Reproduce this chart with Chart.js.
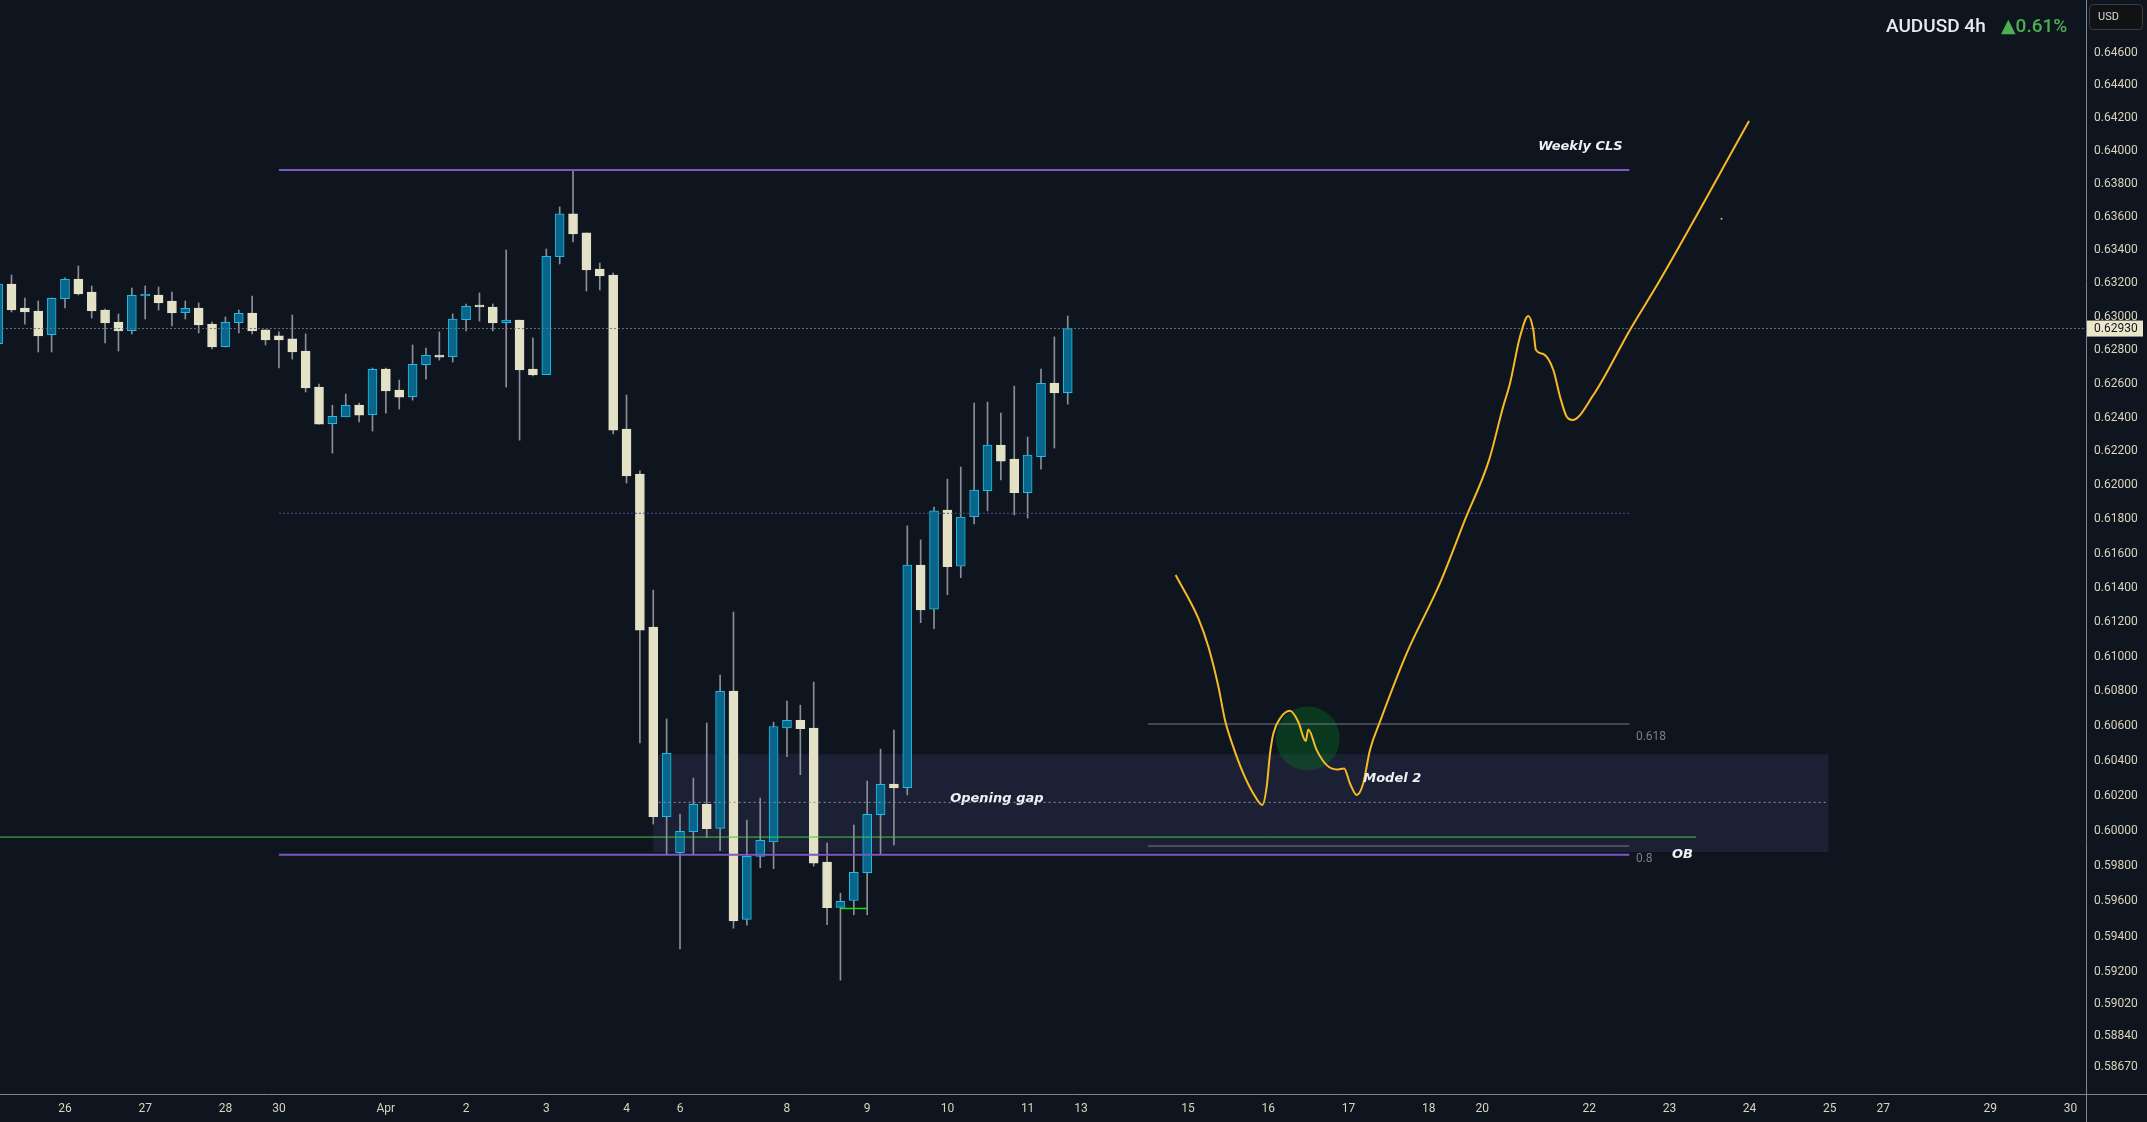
<!DOCTYPE html>
<html>
<head>
<meta charset="utf-8">
<title>AUDUSD 4h</title>
<script src="https://cdn.jsdelivr.net/npm/chart.js@4.4.1/dist/chart.umd.min.js"></script>
<style>
  html, body { margin: 0; padding: 0; background: #0f151f; overflow: hidden; }
  canvas { display: block; }
</style>
</head>
<body>
<canvas id="chart" width="2147" height="1122"></canvas>
<script>
// 4h candles, oldest first (bar number = index + 1)
const opens = [0.62840,0.63197,0.63053,0.63035,0.62893,0.63109,0.63227,0.63149,0.63041,0.62969,
  0.62917,0.63125,0.63131,0.63095,0.63025,0.63053,0.62957,0.62822,0.62965,0.63023,
  0.62922,0.62886,0.62868,0.62796,0.62581,0.62364,0.62405,0.62474,0.62417,0.62689,
  0.62564,0.62524,0.62714,0.62772,0.62762,0.62983,0.63063,0.63059,0.62965,0.62981,
  0.62689,0.62655,0.63361,0.63619,0.63504,0.63287,0.63251,0.62332,0.62067,0.61172,
  0.60080,0.59875,0.59995,0.60150,0.60014,0.60801,0.59497,0.59854,0.59937,0.60589,
  0.60632,0.60588,0.59822,0.59565,0.59604,0.59761,0.60091,0.60267,0.60246,0.61533,
  0.61275,0.61855,0.61526,0.61816,0.61969,0.62238,0.62155,0.61957,0.62169,0.62605,0.62548];
const highs = [0.63221,0.63251,0.63113,0.63095,0.63113,0.63234,0.63305,0.63185,0.63047,0.63017,
  0.63173,0.63185,0.63179,0.63149,0.63095,0.63083,0.62969,0.62999,0.63041,0.63125,
  0.62922,0.62910,0.63011,0.62898,0.62599,0.62474,0.62540,0.62486,0.62695,0.62695,
  0.62623,0.62832,0.62814,0.62910,0.63017,0.63077,0.63143,0.63077,0.63401,0.62981,
  0.62874,0.63407,0.63661,0.63885,0.63504,0.63323,0.63263,0.62534,0.62085,0.61387,
  0.60640,0.60095,0.60301,0.60617,0.60893,0.61259,0.60061,0.60186,0.60622,0.60743,
  0.60720,0.60853,0.59930,0.59646,0.60033,0.60284,0.60467,0.60576,0.61762,0.61680,
  0.61873,0.62037,0.62108,0.62486,0.62492,0.62427,0.62587,0.62285,0.62689,0.62880,0.63005];
const lows = [0.62832,0.63029,0.62957,0.62790,0.62790,0.63053,0.63131,0.62993,0.62844,0.62796,
  0.62898,0.62987,0.63041,0.62946,0.62987,0.62904,0.62808,0.62820,0.62904,0.62898,
  0.62832,0.62695,0.62748,0.62552,0.62362,0.62190,0.62405,0.62374,0.62320,0.62427,
  0.62451,0.62504,0.62629,0.62742,0.62730,0.62916,0.62975,0.62916,0.62581,0.62267,
  0.62647,0.62655,0.63317,0.63450,0.63155,0.63161,0.62303,0.62014,0.60503,0.60038,
  0.59863,0.59331,0.59863,0.59962,0.59886,0.59448,0.59465,0.59789,0.59784,0.60423,
  0.60320,0.59799,0.59467,0.59155,0.59523,0.59523,0.59867,0.59919,0.60205,0.61197,
  0.61162,0.61360,0.61459,0.61773,0.61850,0.62032,0.61826,0.61808,0.62096,0.62220,0.62480];
const closes = [0.63197,0.63041,0.63029,0.62886,0.63111,0.63225,0.63137,0.63035,0.62963,0.62916,
  0.63129,0.63131,0.63083,0.63023,0.63051,0.62952,0.62820,0.62968,0.63021,0.62916,
  0.62862,0.62862,0.62790,0.62576,0.62362,0.62408,0.62473,0.62415,0.62687,0.62558,
  0.62522,0.62717,0.62770,0.62760,0.62986,0.63063,0.63059,0.62963,0.62980,0.62683,
  0.62653,0.63363,0.63619,0.63498,0.63281,0.63245,0.62326,0.62055,0.61154,0.60080,
  0.60442,0.59997,0.60150,0.60012,0.60799,0.59489,0.59854,0.59945,0.60597,0.60632,
  0.60584,0.59816,0.59563,0.59599,0.59763,0.60093,0.60265,0.60244,0.61532,0.61271,
  0.61850,0.61523,0.61814,0.61973,0.62238,0.62143,0.61957,0.62179,0.62603,0.62546,0.62930];

// time axis: bar number of each day label
const xTickPos = [6,12,18,22,30,36,42,48,52,60,66,72,78,82,90,96,102,108,112,120,126,132,138,142,150,156];
const xTickLabels = ['26','27','28','30','Apr','2','3','4','6','8','9','10','11','13','15','16','17','18','20','22','23','24','25','27','29','30'];

// price axis
const yTicks = [0.646,0.644,0.642,0.640,0.638,0.636,0.634,0.632,0.630,0.628,0.626,0.624,0.622,0.620,
  0.618,0.616,0.614,0.612,0.610,0.608,0.606,0.604,0.602,0.600,0.598,0.596,0.594,0.592,0.5902,0.5884,0.5867];

// projected path (bar number, price)
const pathX = [89.07,90.77,91.52,92.27,92.76,93.38,94.13,94.88,95.55,95.88,96.13,96.38,96.88,97.63,98.24,
  98.8,98.99,99.62,100.37,101.12,101.67,102.11,102.61,103.1,103.6,104.35,106.35,108.84,110.71,112.51,
  113.56,114.08,114.83,115.45,115.82,116.02,116.57,117.32,117.82,118.32,118.74,120.31,123.05,125.3,131.96];
const pathY = [0.61475,0.61222,0.61057,0.60826,0.60634,0.60480,0.60328,0.60213,0.60147,0.60251,0.60442,
  0.60557,0.60643,0.60687,0.60624,0.60513,0.60580,0.60461,0.60375,0.60350,0.60356,0.60270,0.60204,
  0.60270,0.60461,0.60624,0.61019,0.61427,0.61797,0.62149,0.62463,0.62604,0.62882,0.63005,0.62922,
  0.62802,0.62778,0.62683,0.62524,0.62405,0.62386,0.62534,0.62922,0.63221,0.64182];

// drawn levels
const weeklyCls = 0.63884;
const obLevel = 0.59864;
const greenLevel = 0.59964;
const midLevel = 0.61836;
const fib618 = 0.60611;
const fib80 = 0.59913;
const gapTop = 0.60438, gapBottom = 0.59879, gapMid = 0.60162;
const lowMark = 0.59559;
const lastPrice = closes[closes.length - 1];

const bars = opens.map((o, i) => i + 1);
const isUp = closes.map((c, i) => c >= opens[i]);

const upFill = '#09668a', upEdge = '#1bbde6', downFill = '#e4e2c6';
const axisText = '#d8d5bc';

function level(y, x0, x1, color, width, dash) {
  return {
    type: 'line', data: [{ x: x0, y }, { x: x1, y }],
    borderColor: color, borderWidth: width, borderDash: dash || [],
    pointRadius: 0, pointHoverRadius: 0, order: 0
  };
}

const notes = [
  { text: 'Weekly CLS', x: 122.5, y: 0.64033, align: 'right', kind: 'label' },
  { text: 'Opening gap', x: 75.7, y: 0.60192, align: 'center', kind: 'label' },
  { text: 'Model 2', x: 103.1, y: 0.60308, align: 'left', kind: 'label' },
  { text: 'OB', x: 126.2, y: 0.59875, align: 'left', kind: 'label' },
  { text: '0.618', x: 123.5, y: 0.60543, align: 'left', kind: 'fib' },
  { text: '0.8', x: 123.5, y: 0.59846, align: 'left', kind: 'fib' }
];
const zone = { x: 98.95, y: 0.60528 };

const overlay = {
  id: 'overlay',
  beforeDatasetsDraw(chart) {
    const { ctx, chartArea, scales: { x, y } } = chart;
    ctx.save();
    ctx.beginPath();
    ctx.rect(chartArea.left, chartArea.top, chartArea.width, chartArea.height);
    ctx.clip();
    // opening gap box
    const l = x.getPixelForValue(50), r = x.getPixelForValue(137.9);
    const t = y.getPixelForValue(gapTop), b = y.getPixelForValue(gapBottom);
    ctx.fillStyle = '#1c2034';
    ctx.fillRect(l, t, r - l, b - t);
    // green zone
    ctx.fillStyle = 'rgba(0,140,30,0.3)';
    ctx.beginPath();
    ctx.arc(x.getPixelForValue(zone.x), y.getPixelForValue(zone.y), 32, 0, Math.PI * 2);
    ctx.fill();
    ctx.restore();
  },
  afterDatasetsDraw(chart) {
    const { ctx, scales: { x, y } } = chart;
    ctx.save();
    ctx.textBaseline = 'middle';
    notes.forEach(n => {
      if (n.kind === 'fib') {
        ctx.font = '12px Roboto';
        ctx.fillStyle = '#7b7e88';
      } else {
        ctx.font = 'italic bold 13px "DejaVu Sans"';
        ctx.fillStyle = '#eef0f4';
      }
      ctx.textAlign = n.align;
      ctx.fillText(n.text, x.getPixelForValue(n.x), y.getPixelForValue(n.y) + 1.5);
    });
    ctx.restore();
  },
  afterDraw(chart) {
    const { ctx, chartArea, scales: { y } } = chart;
    const W = chart.width, H = chart.height;
    ctx.save();
    // axis borders
    ctx.strokeStyle = '#80838c';
    ctx.lineWidth = 1;
    ctx.beginPath();
    ctx.moveTo(chartArea.right + 0.5, 0);
    ctx.lineTo(chartArea.right + 0.5, H);
    ctx.moveTo(0, chartArea.bottom + 0.5);
    ctx.lineTo(W, chartArea.bottom + 0.5);
    ctx.stroke();

    // last price tag
    const py = y.getPixelForValue(lastPrice);
    ctx.fillStyle = '#e9e6ca';
    ctx.fillRect(chartArea.right + 1, py - 8, 56, 16);
    ctx.fillStyle = '#131722';
    ctx.font = '12px Roboto';
    ctx.textAlign = 'left';
    ctx.textBaseline = 'middle';
    ctx.fillText(lastPrice.toFixed(5), chartArea.right + 8, py + 0.5);

    // currency box
    ctx.fillStyle = '#111214';
    ctx.strokeStyle = '#3a3d45';
    ctx.beginPath();
    ctx.roundRect(2089.5, 4.5, 53, 25, 4);
    ctx.fill();
    ctx.stroke();
    ctx.fillStyle = '#d8dae0';
    ctx.font = '11px Roboto';
    ctx.fillText('USD', 2098, 17.5);

    // title
    ctx.font = '500 19px Roboto, "DejaVu Sans"';
    ctx.fillStyle = '#e8eaef';
    ctx.fillText('AUDUSD 4h', 1886, 27);
    ctx.fillStyle = '#4caf50';
    ctx.fillText('\u25B20.61%', 2001, 27);
    ctx.restore();
  }
};

Chart.defaults.font.family = 'Roboto, "DejaVu Sans", sans-serif';

const datasets = [
  {
    type: 'bar', order: 1, grouped: false,
    data: bars.map((b, i) => ({ x: b, y: [opens[i], closes[i]] })),
    backgroundColor: isUp.map(u => u ? upFill : downFill),
    borderColor: isUp.map(u => u ? upEdge : downFill),
    borderWidth: 1, borderSkipped: false, barThickness: 9, minBarLength: 2
  },
  {
    type: 'bar', order: 2, grouped: false,
    data: bars.map((b, i) => ({ x: b, y: [lows[i], highs[i]] })),
    backgroundColor: '#8b8e98', barThickness: 1, minBarLength: 1
  },
  level(lastPrice, -5, 160, '#6f737d', 1, [2, 2]),
  level(weeklyCls, 22, 123, '#7e57c2', 2),
  level(obLevel, 22, 123, '#7e57c2', 2),
  level(greenLevel, -5, 128, '#45c94a', 1),
  level(midLevel, 22, 123, '#4b5190', 1, [2, 2]),
  level(fib618, 87, 123, '#787b86', 1),
  level(fib80, 87, 123, '#787b86', 1),
  level(gapMid, 50.4, 137.8, '#8d909a', 1, [2, 3]),
  level(lowMark, 64, 66, '#14e014', 1.5),
  {
    type: 'line', order: -1,
    data: pathX.map((px, i) => ({ x: px, y: pathY[i] })),
    borderColor: '#f7b924', borderWidth: 2, pointRadius: 0, pointHoverRadius: 0,
    cubicInterpolationMode: 'monotone'
  },
  {
    type: 'line', order: -1, showLine: false,
    data: [{ x: 129.9, y: 0.63590 }],
    pointRadius: 1, pointHoverRadius: 1, pointBackgroundColor: '#f7b924', pointBorderWidth: 0
  }
];

new Chart(document.getElementById('chart'), {
  type: 'bar',
  data: { datasets },
  options: {
    responsive: false,
    animation: false,
    devicePixelRatio: 1,
    layout: { padding: 0, autoPadding: false },
    plugins: { legend: { display: false }, tooltip: { enabled: false } },
    scales: {
      x: {
        type: 'linear', min: 1.14, max: 157.16, offset: false,
        grid: { display: false, drawTicks: false },
        border: { display: false },
        afterBuildTicks: s => { s.ticks = xTickPos.map(v => ({ value: v })); },
        afterFit: s => { s.height = 28; s.paddingLeft = 0; s.paddingRight = 0; },
        ticks: {
          autoSkip: false, maxRotation: 0, padding: 8, color: axisText,
          font: { size: 12 },
          callback: v => xTickLabels[xTickPos.indexOf(v)]
        }
      },
      y: {
        type: 'logarithmic', position: 'right', min: 0.58519, max: 0.64924,
        grid: { display: false, drawTicks: false },
        border: { display: false },
        afterBuildTicks: s => { s.ticks = yTicks.map(v => ({ value: v })); },
        afterFit: s => { s.width = 61; s.paddingTop = 0; s.paddingBottom = 0; },
        ticks: {
          autoSkip: false, padding: 8, color: axisText,
          font: { size: 12 },
          callback: v => v.toFixed(5)
        }
      }
    }
  },
  plugins: [overlay]
});
</script>
</body>
</html>
